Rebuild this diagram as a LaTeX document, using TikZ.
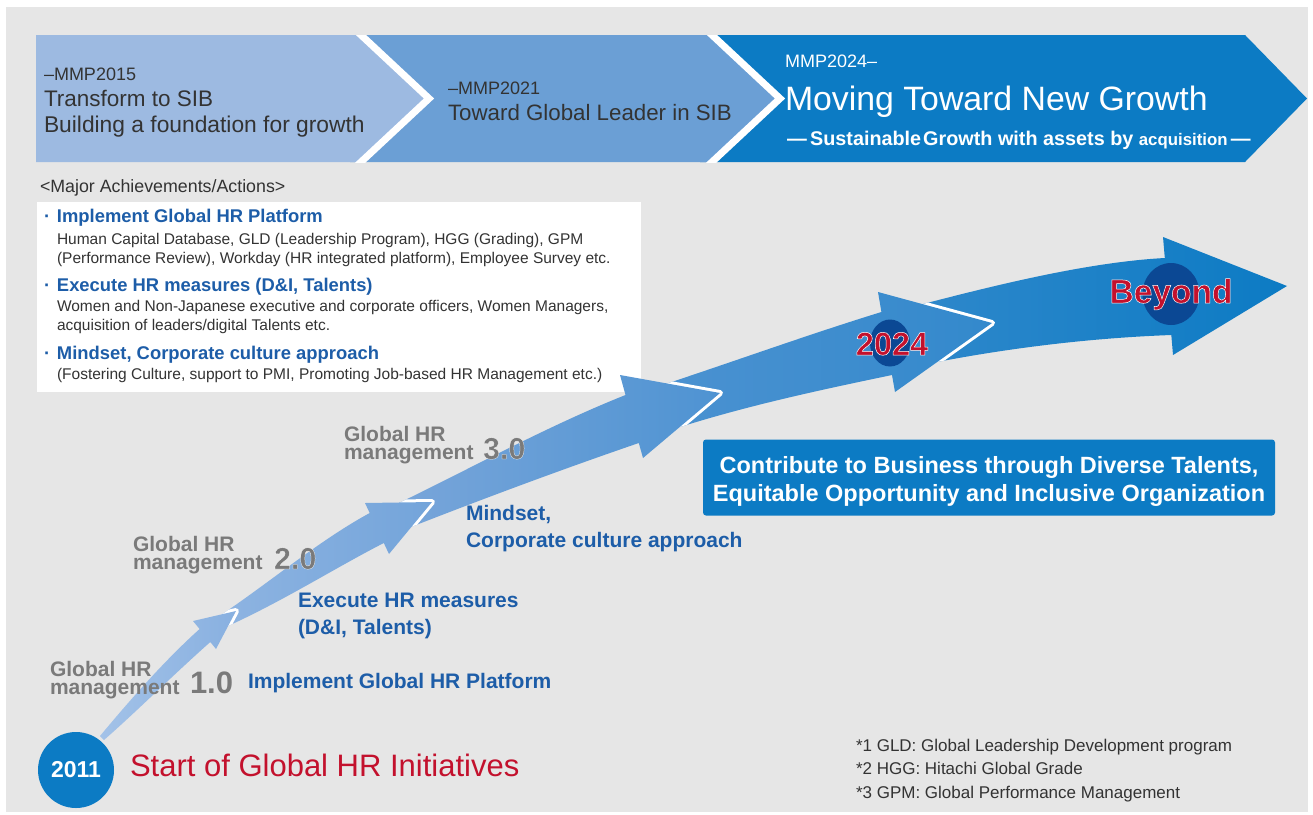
\documentclass[tikz,border=0pt]{standalone}
\usepackage{fontspec}
\setmainfont{Liberation Sans}
\usetikzlibrary{calc}
\definecolor{bgc}{HTML}{E6E6E6}
\definecolor{cone}{HTML}{9DBAE1}
\definecolor{ctwo}{HTML}{6B9FD5}
\definecolor{cthree}{HTML}{0C7BC4}
\definecolor{dgray}{HTML}{333333}
\definecolor{lgray}{HTML}{7A7A7A}
\definecolor{tblue}{HTML}{1D5DA8}
\definecolor{tred}{HTML}{C3112D}
\definecolor{cdark}{HTML}{0B4894}
\definecolor{sAa}{HTML}{A3C2E8}\definecolor{sAb}{HTML}{88B0E0}
\definecolor{sBa}{HTML}{90B5E2}\definecolor{sBb}{HTML}{73A4DA}
\definecolor{sCa}{HTML}{7AA6DA}\definecolor{sCb}{HTML}{4E93D2}
\definecolor{sDa}{HTML}{4C92D1}\definecolor{sDb}{HTML}{3389CC}
\definecolor{sEa}{HTML}{2F88CB}\definecolor{sEb}{HTML}{0C7BC4}
\newcommand\fsz[1]{\fontsize{#1}{#1}\selectfont}
% text drawn with fill + white stroke (PDF render mode 2)
\newcommand\outl[2]{\special{pdf:literal direct 2 Tr #1 w 1 1 1 RG}#2\special{pdf:literal direct 0 Tr}}
\newcommand\twolines[2]{\vbox{\baselineskip=17.5pt\hbox{#1}\hbox{#2}}}
\def\segA{(100,736) .. controls (130,700) and (165,660) .. (199.6,629) -- (193,621) -- (236,611) -- (216,649) -- (210.3,642) .. controls (172,676) and (136,712) .. (104,740) -- cycle}
\def\segB{(208,624) -- (222,614.3) .. controls (270,582) and (320,540) .. (369.7,513) -- (365,503) -- (432,502) -- (389,554) -- (383.8,543) .. controls (335,568) and (285,600) .. (228,626) -- (212,634) -- cycle}
\def\segC{(388,510) -- (400,502.5) .. controls (475,466) and (550,425) .. (625.5,395) -- (620,375) -- (720,393) -- (643,458) -- (638.8,443) .. controls (560,470) and (480,500) .. (411,527) -- (392,532) -- cycle}
\def\segD{(650,390) -- (667,383.5) .. controls (738,360) and (810,334) .. (881.4,312) -- (878,292) -- (992,323) -- (895,392) -- (892,375) .. controls (820,390) and (750,405) .. (680,427) -- (650,430) -- cycle}
\def\segE{(905,308) -- (923,304) .. controls (1000,284) and (1090,262) .. (1164.8,258) -- (1163,237) -- (1287,286) -- (1173,355) -- (1171.3,335) .. controls (1090,338) and (1010,348) .. (937,362) -- (905,372) -- cycle}
\begin{document}
\begin{tikzpicture}[x=1pt,y=-1pt,
  txt/.style={inner sep=0pt, outer sep=0pt, anchor=base west},
  ctxt/.style={inner sep=0pt, outer sep=0pt, anchor=base},
  chdark/.style={txt, text=dgray},
  head/.style={txt, text=tblue, font=\fsz{18.4}\bfseries},
  sub/.style={txt, text=dgray, font=\fsz{15.5}},
  glab/.style={txt, text=lgray, font=\fsz{21}\bfseries},
  gnum/.style={txt, text=lgray, font=\fsz{30.5}\bfseries},
  blab/.style={txt, text=tblue, font=\fsz{21}\bfseries},
  note/.style={txt, text=dgray, font=\fsz{17}},
  wedge/.style={draw=white, line width=6pt, line join=round},
  cedge/.style={draw=white, line width=7pt, line join=miter},
]
\useasboundingbox (0,0) rectangle (1313,814);
\fill[white] (0,0) rectangle (1313,814);
\fill[bgc] (6,7) rectangle (1308,812);

% banner chevrons
\fill[cthree] (700,35) -- (1245,35) -- (1307,98.5) -- (1245,162) -- (700,162) -- cycle;
\fill[ctwo] (350,35) -- (712,35) -- (780,98.5) -- (712,162) -- (350,162) -- cycle;
\begin{scope}
\clip (0,35) rectangle (1313,162);
\draw[cedge] ($(712,35)!-0.2!(780,98.5)$) -- (780,98.5) -- ($(712,162)!-0.2!(780,98.5)$);
\end{scope}
\fill[cone] (36,35) -- (361,35) -- (429,98.5) -- (361,162) -- (36,162) -- cycle;
\begin{scope}
\clip (0,35) rectangle (1313,162);
\draw[cedge] ($(361,35)!-0.2!(429,98.5)$) -- (429,98.5) -- ($(361,162)!-0.2!(429,98.5)$);
\end{scope}

\node[chdark, font=\fsz{18}] (mmpa) at (44,80) {–MMP2015};
\node[chdark, font=\fsz{22.5}] (pha) at (44,106) {Transform to SIB};
\node[chdark, font=\fsz{22.8}] (phb) at (44,132) {Building a foundation for growth};
\node[chdark, font=\fsz{18}] (mmpb) at (448,94) {–MMP2021};
\node[chdark, font=\fsz{22.3}] (phc) at (448,120) {Toward Global Leader in SIB};
\node[txt, text=white, font=\fsz{18}] (mmpc) at (785,67) {MMP2024–};
\node[txt, text=white, font=\fsz{33.8}] (phd) at (785,110) {Moving Toward New Growth};
\node[txt, text=white, font=\fsz{19.8}\bfseries] (phe) at (787,145) {—\,Sustainable\hspace{2pt}Growth with assets by {\fsz{16.8}acquisition}\,—};

% achievements
\node[chdark, font=\fsz{17.8}] (major) at (40,192) {<Major Achievements/Actions>};
\node[fill=white, minimum width=604pt, minimum height=190pt, inner sep=0pt, anchor=north west] (abox) at (37,202) {};
\node[head] (hda) at (44,222) {\makebox[13pt][l]{·}Implement Global HR Platform};
\node[sub] (sba) at (57,244) {Human Capital Database, GLD (Leadership Program), HGG (Grading), GPM};
\node[sub] (sbb) at (57,263) {(Performance Review), Workday (HR integrated platform), Employee Survey etc.};
\node[head] (hdb) at (44,291) {\makebox[13pt][l]{·}Execute HR measures (D\&I, Talents)};
\node[sub] (sbc) at (57,311) {Women and Non-Japanese executive and corporate officers, Women Managers,};
\node[sub] (sbd) at (57,330) {acquisition of leaders/digital Talents etc.};
\node[head] (hdc) at (44,359) {\makebox[13pt][l]{·}Mindset, Corporate culture approach};
\node[sub] (sbe) at (57,379) {(Fostering Culture, support to PMI, Promoting Job-based HR Management etc.)};

% growth arrow
\shade[left color=sEa, right color=sEb] \segE;
\begin{scope}\clip \segE; \draw[wedge] (878,292) -- (992,323) -- (895,392);\end{scope}
\shade[left color=sDa, right color=sDb] \segD;
\begin{scope}\clip \segD; \draw[wedge] (620,375) -- (720,393) -- (643,458);\end{scope}
\shade[left color=sCa, right color=sCb] \segC;
\begin{scope}\clip \segC; \draw[wedge] (365,503) -- (432,502) -- (389,554);\end{scope}
\shade[left color=sBa, right color=sBb] \segB;
\begin{scope}\clip \segB; \draw[wedge] (193,621) -- (236,611) -- (216,649);\end{scope}
\shade[left color=sAa, right color=sAb] \segA;

\fill[cdark] (890,343) ellipse [x radius=20, y radius=23.5];
\fill[cdark] (1171,294) ellipse [x radius=28.5, y radius=31];
\node[ctxt, text=tred, font=\fsz{32.5}\bfseries] (ytwo) at (892,355) {\outl{0.5}{2024}};
\node[ctxt, text=tred, font=\fsz{33.5}\bfseries] (beyond) at (1171,303) {\outl{0.5}{Beyond}};

% stage labels
\node[glab] (gla) at (50,694) {\twolines{Global HR}{management}};
\node[gnum, font=\fsz{31}\bfseries] (nra) at (190,693) {1.0};
\node[glab] (glb) at (133,569) {\twolines{Global HR}{management}};
\node[gnum] (nrb) at (274,569) {\outl{0.25}{2.0}};
\node[glab] (glc) at (344,459) {\twolines{Global HR}{management}};
\node[gnum] (nrc) at (483,459) {\outl{0.25}{3.0}};

\node[blab] (bla) at (248,688) {Implement Global HR Platform};
\node[blab] (blb) at (298,607) {Execute HR measures};
\node[blab] (blc) at (298,634) {(D\&I, Talents)};
\node[blab] (bld) at (466,520) {Mindset,};
\node[blab] (ble) at (466,547) {Corporate culture approach};

% start
\node[circle, fill=cthree, minimum size=76pt, inner sep=0pt, text=white, font=\fsz{23}\bfseries] (ystart) at (76,770) {2011};
\node[txt, text=tred, font=\fsz{31}] (start) at (130,776) {Start of Global HR Initiatives};

% contribute box
\node[fill=cthree, rounded corners=3pt, minimum width=572pt, minimum height=76pt, inner sep=0pt] (cbox) at (989,477.5) {};
\node[ctxt, text=white, font=\fsz{23.5}\bfseries] (cba) at (989,473) {Contribute to Business through Diverse Talents,};
\node[ctxt, text=white, font=\fsz{23.5}\bfseries] (cbb) at (989,501) {Equitable Opportunity and Inclusive Organization};

% notes
\node[note] (nta) at (856,751) {*1 GLD: Global Leadership Development program};
\node[note] (ntb) at (856,774) {*2 HGG: Hitachi Global Grade};
\node[note] (ntc) at (856,798) {*3 GPM: Global Performance Management};
\end{tikzpicture}
\end{document}
